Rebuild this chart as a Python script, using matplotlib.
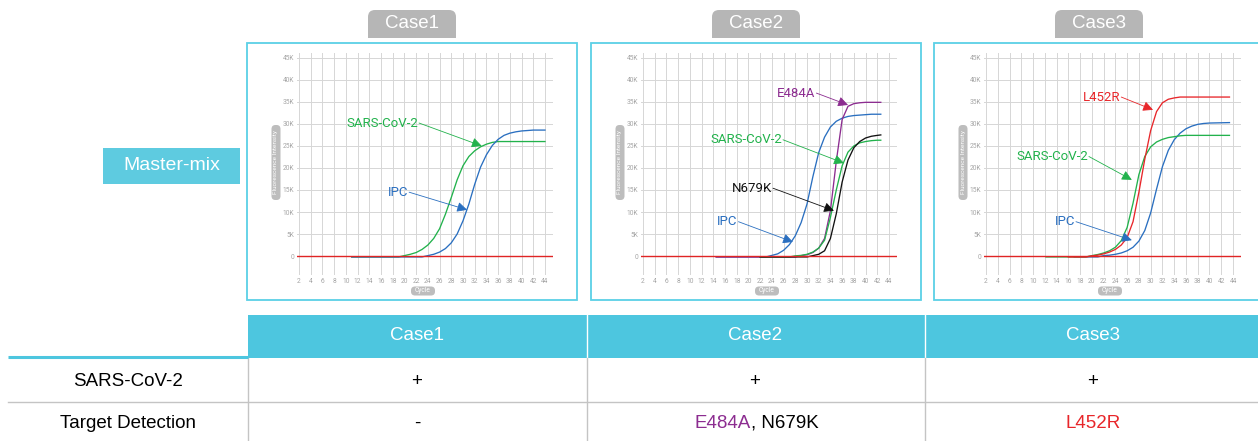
import matplotlib
matplotlib.use("Agg")
import matplotlib.pyplot as plt
from matplotlib.patches import Rectangle, FancyBboxPatch

# ---------------- data (fluorescence in K) ----------------
x_ticks = list(range(2, 45, 2))
y_ticks = [0, 5, 10, 15, 20, 25, 30, 35, 40, 45]
y_tick_labels = ["0", "5K", "10K", "15K", "20K", "25K", "30K", "35K", "40K", "45K"]

case_names = ["Case1", "Case2", "Case3"]

# Case 1
c1_sars_cyc = [11, 19, 20, 21, 22, 23, 24, 25, 26, 27, 28, 29, 30, 31, 32, 33, 34, 35, 36, 44]
c1_sars_val = [-0.2, -0.2, 0.1, 0.4, 0.8, 1.5, 2.5, 4.0, 6.2, 9.5, 13.3, 17.3, 20.5, 22.6, 23.9, 24.8,
               25.4, 25.8, 26.0, 26.0]
c1_ipc_cyc = [11, 23, 24, 25, 26, 27, 28, 29, 30, 31, 32, 33, 34, 35, 36, 37, 38, 39, 40, 41, 42, 44]
c1_ipc_val = [-0.2, -0.2, 0.1, 0.4, 0.9, 1.7, 3.0, 5.0, 8.0, 11.8, 16.3, 20.2, 23.0, 25.1, 26.5, 27.4,
              27.9, 28.2, 28.4, 28.5, 28.6, 28.6]

# Case 2
c2_ipc_cyc = [14.5, 23, 24, 25, 26, 27, 28, 29, 30, 31, 32, 33, 34, 35, 36, 37, 38, 39, 40, 41, 42, 42.6]
c2_ipc_val = [-0.2, -0.2, 0.15, 0.5, 1.3, 2.6, 4.6, 7.6, 11.8, 18.0, 23.5, 27.0, 29.3, 30.6, 31.3, 31.7,
              31.9, 32.0, 32.1, 32.2, 32.2, 32.2]
c2_e484a_cyc = [14.5, 28, 29, 30, 31, 32, 33, 34, 35, 36, 37, 38, 39, 40, 42.6]
c2_e484a_val = [-0.2, -0.2, 0.1, 0.3, 0.8, 1.8, 4.0, 10.3, 21.5, 31.0, 34.0, 34.6, 34.8, 34.9, 34.9]
c2_sars_cyc = [22, 27, 28, 29, 30, 31, 32, 33, 34, 35, 36, 37, 38, 39, 40, 41, 42, 42.6]
c2_sars_val = [-0.2, -0.2, 0.05, 0.15, 0.4, 0.9, 1.8, 3.6, 8.8, 15.0, 20.5, 23.6, 25.0, 25.7, 26.0, 26.2,
               26.3, 26.3]
c2_n679k_cyc = [22, 30, 31, 32, 33, 34, 35, 36, 37, 38, 39, 40, 41, 42, 42.6]
c2_n679k_val = [-0.2, -0.2, 0.1, 0.4, 1.2, 4.0, 9.6, 16.8, 21.8, 24.6, 26.0, 26.8, 27.2, 27.4, 27.5]

# Case 3
c3_l452r_cyc = [16, 19, 20, 21, 22, 23, 24, 25, 26, 27, 28, 29, 30, 31, 32, 33, 34, 35, 43.4]
c3_l452r_val = [-0.2, -0.2, 0.05, 0.2, 0.5, 0.9, 1.5, 2.5, 4.2, 7.8, 14.5, 22.0, 28.5, 32.8, 34.8, 35.6,
                35.9, 36.1, 36.1]
c3_sars_cyc = [12.2, 19, 20, 21, 22, 23, 24, 25, 26, 27, 28, 29, 30, 31, 32, 33, 34, 35, 36, 43.4]
c3_sars_val = [-0.2, -0.2, 0.1, 0.35, 0.7, 1.2, 2.0, 3.5, 6.5, 12.0, 18.5, 22.6, 24.8, 25.9, 26.5, 26.9,
               27.1, 27.3, 27.4, 27.4]
c3_ipc_cyc = [17, 21, 22, 23, 24, 25, 26, 27, 28, 29, 30, 31, 32, 33, 34, 35, 36, 37, 38, 39, 40, 43.4]
c3_ipc_val = [-0.2, -0.2, 0.1, 0.2, 0.4, 0.7, 1.2, 2.0, 3.4, 5.8, 9.8, 15.2, 20.3, 24.0, 26.4, 27.9,
              28.9, 29.5, 29.9, 30.1, 30.2, 30.3]

# table
row_labels = ["SARS-CoV-2", "Target Detection"]
sars_row = ["+", "+", "+"]

GREEN = "#22b24c"
BLUE = "#2a6fc0"
PURPLE = "#8c2c90"
RED = "#e8262a"
BLACK = "#111111"
CYAN = "#4dc6df"
GRAY = "#b6b6b6"

narrow = ["Roboto", "DejaVu Sans"]
main = ["Liberation Sans", "DejaVu Sans"]

W, H = 1258, 441
fig = plt.figure(figsize=(W / 100, H / 100), dpi=100)
bg = fig.add_axes([0, 0, 1, 1])
bg.set_xlim(0, W)
bg.set_ylim(H, 0)
bg.axis("off")

# series per panel: (cycles, values, color, label, label pos, arrow head)
panels = [
    [(c1_sars_cyc, c1_sars_val, GREEN, "SARS-CoV-2", (22.3, 30.2), (33.2, 25.0)),
     (c1_ipc_cyc, c1_ipc_val, BLUE, "IPC", (20.6, 14.5), (30.7, 10.5))],
    [(c2_ipc_cyc, c2_ipc_val, BLUE, "IPC", (18.1, 7.8), (27.6, 3.2)),
     (c2_e484a_cyc, c2_e484a_val, PURPLE, "E484A", (31.4, 37.0), (37.0, 34.3)),
     (c2_sars_cyc, c2_sars_val, GREEN, "SARS-CoV-2", (25.7, 26.4), (36.3, 21.1)),
     (c2_n679k_cyc, c2_n679k_val, BLACK, "N679K", (24.0, 15.4), (34.6, 10.3))],
    [(c3_ipc_cyc, c3_ipc_val, BLUE, "IPC", (17.1, 7.8), (26.8, 3.6)),
     (c3_sars_cyc, c3_sars_val, GREEN, "SARS-CoV-2", (19.3, 22.6), (26.8, 17.3)),
     (c3_l452r_cyc, c3_l452r_val, RED, "L452R", (24.8, 36.1), (30.4, 33.2))],
]

offsets = [0, 344, 687]
for i, dx in enumerate(offsets):
    # tab
    tab = FancyBboxPatch((368 + dx, 10), 88, 40, boxstyle="round,pad=0,rounding_size=7",
                         fc=GRAY, ec="none", zorder=1)
    bg.add_patch(tab)
    bg.add_patch(Rectangle((360 + dx, 38), 104, 5, fc="white", ec="none", zorder=2))
    bg.text(412 + dx, 24, case_names[i], color="white", fontsize=13.5, family=main,
            ha="center", va="center", zorder=3)
    # panel frame
    bg.add_patch(Rectangle((247 + dx, 43), 330, 257, fc="white", ec="#5bd0e6", lw=1.3, zorder=2))
    # axis title boxes
    bg.add_patch(FancyBboxPatch((271.5 + dx, 125), 9, 75, boxstyle="round,pad=0,rounding_size=4",
                                fc="#bdbdbd", ec="none", zorder=3))
    bg.text(276 + dx, 162, "Fluorescence Intensity", rotation=90, color="white", fontsize=4.6,
            family=narrow, ha="center", va="center", zorder=4)
    bg.add_patch(FancyBboxPatch((411 + dx, 286.5), 24, 9, boxstyle="round,pad=0,rounding_size=4",
                                fc="#bdbdbd", ec="none", zorder=3))
    bg.text(423 + dx, 291, "Cycle", color="white", fontsize=4.8, family=narrow,
            ha="center", va="center", zorder=4)

    # chart axes
    sx = 5.857 if i < 2 else 5.881
    left = 297 + dx
    right = 299 + dx + (45.37 - 2) * sx
    ax = fig.add_axes([left / W, 1 - 275 / H, (right - left) / W, (275 - 53) / H])
    ax.set_zorder(5)
    ax.patch.set_alpha(0)
    ax.set_xlim(2 - 2 / sx, 45.37)
    ax.set_ylim(-4.3, 46.1)
    for s in ax.spines.values():
        s.set_visible(False)
    ax.set_xticks(x_ticks)
    ax.set_xticklabels([str(t) for t in x_ticks])
    ax.set_yticks(y_ticks)
    ax.set_yticklabels(y_tick_labels)
    ax.tick_params(length=0, labelsize=4.8, labelcolor="#a5a5a5", pad=2)
    for lab in ax.get_xticklabels() + ax.get_yticklabels():
        lab.set_family(narrow)
    ax.grid(True, color="#d6d6d6", lw=0.7)
    ax.set_axisbelow(True)
    ax.axhline(0, color="#e02424", lw=1.0, zorder=4)

    for cyc, val, col, name, tpos, head in panels[i]:
        ax.plot(cyc, val, color=col, lw=0.95, zorder=3)
        ax.text(tpos[0], tpos[1], name, color=col, fontsize=9.5, family=narrow,
                ha="right", va="center", zorder=6)
        ax.annotate("", xy=head, xytext=(tpos[0] + 0.2, tpos[1]),
                    arrowprops=dict(arrowstyle="-|>,head_length=0.6,head_width=0.3",
                                    color=col, lw=0.6, shrinkA=0, shrinkB=0), zorder=6)

# Master-mix label
bg.add_patch(Rectangle((103, 148), 137, 36, fc="#5ecbe0", ec="none"))
bg.text(171.5, 166, "Master-mix", color="white", fontsize=14, family=main, ha="center", va="center")

# ---------------- table ----------------
bg.add_patch(Rectangle((248, 315), W - 248, 43, fc=CYAN, ec="none"))
col_centers = [417, 755, 1093]
for xd in [587, 925]:
    bg.plot([xd, xd], [315, 358], color="white", lw=1)
    bg.plot([xd, xd], [358, H], color="#c4c4c4", lw=1)
bg.plot([248, 248], [358, H], color="#c4c4c4", lw=1)
bg.plot([8, 248], [357, 357], color=CYAN, lw=2.2, solid_capstyle="butt")
bg.plot([8, W], [402, 402], color="#c4c4c4", lw=1)

fs = 13.5
for xc, name in zip(col_centers, case_names):
    bg.text(xc, 336, name, color="white", fontsize=fs, family=main, ha="center", va="center")
for yy, lab in zip([381, 423], row_labels):
    bg.text(128, yy, lab, color="black", fontsize=fs, family=main, ha="center", va="center")
for xc, s in zip(col_centers, sars_row):
    bg.text(xc, 381, s, color="black", fontsize=fs, family=main, ha="center", va="center")
bg.text(col_centers[0], 423, "-", color="black", fontsize=fs, family=main, ha="center", va="center")
bg.text(751, 423, "E484A", color=PURPLE, fontsize=fs, family=main, ha="right", va="center")
bg.text(751, 423, ", N679K", color="black", fontsize=fs, family=main, ha="left", va="center")
bg.text(col_centers[2], 423, "L452R", color=RED, fontsize=fs, family=main, ha="center", va="center")

fig.savefig("out.png", dpi=100)
